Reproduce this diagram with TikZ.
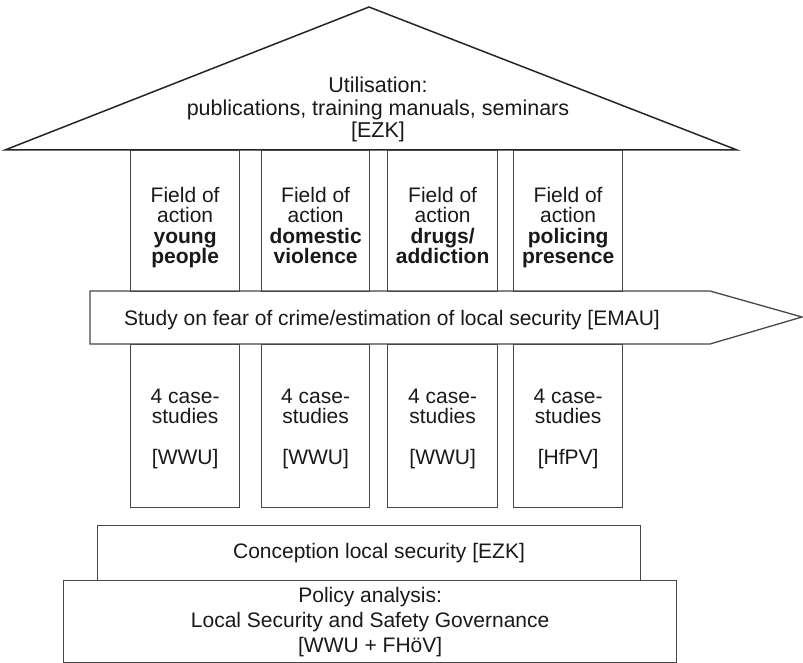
\documentclass[tikz,border=0pt]{standalone}
\usepackage{fontspec}
\setmainfont{Liberation Sans}
\begin{document}
\begin{tikzpicture}[x=1pt,y=-1pt,
  edge/.style={draw=black!72,line width=1.3pt},
  roofline/.style={draw=black!85,line width=1.5pt,line join=miter},
  box/.style={edge,inner sep=0pt,anchor=north west},
  upcol/.style={box,minimum height=141pt},
  lowcol/.style={box,minimum height=163pt},
  txt/.style={align=center,inner sep=0pt,anchor=north,text=black!90},
  coltxt/.style={txt,font=\fontsize{21}{20.5}\selectfont},
  lowtxt/.style={txt,font=\fontsize{21}{19.5}\selectfont},
  roofEtxt/.style={txt,font=\fontsize{21.5}{22.5}\selectfont},
  bigtxt/.style={txt,font=\fontsize{21}{25}\selectfont}]
\useasboundingbox (0,0) rectangle (803,663);
% roof
\draw[roofline] (369,7) -- (737,150) -- (5,150) -- cycle;
\node[roofEtxt] (roof) at (378,77) {Utilisation:\\publications, training manuals, seminars\\{[EZK]}};
% upper columns
\node[upcol,minimum width=109pt] (u1) at (130,150) {};
\node[upcol,minimum width=108pt] (u2) at (261,150) {};
\node[upcol,minimum width=110pt] (u3) at (387,150) {};
\node[upcol,minimum width=109pt] (u4) at (513,150) {};
\node[coltxt] (ut1) at (u1.north |- 0,187) {Field of\\action\\\textbf{young}\\\textbf{people}};
\node[coltxt] (ut2) at (u2.north |- 0,187) {Field of\\action\\\textbf{domestic}\\\textbf{violence}};
\node[coltxt] (ut3) at (u3.north |- 0,187) {Field of\\action\\\textbf{drugs/}\\\textbf{addiction}};
\node[coltxt] (ut4) at (u4.north |- 0,187) {Field of\\action\\\textbf{policing}\\\textbf{presence}};
% arrow
\draw[edge,line join=miter] (90,291) -- (710,291) -- (802,317) -- (710,344) -- (90,344) -- cycle;
\node[inner sep=0pt,anchor=base,text=black!90,font=\fontsize{21}{25}\selectfont] (study) at (392,325) {Study on fear of crime/estimation of local security [EMAU]};
% lower columns
\node[lowcol,minimum width=109pt] (l1) at (130,344) {};
\node[lowcol,minimum width=108pt] (l2) at (261,344) {};
\node[lowcol,minimum width=110pt] (l3) at (387,344) {};
\node[lowcol,minimum width=109pt] (l4) at (513,344) {};
\node[lowtxt] (lt1) at (l1.north |- 0,389) {4 case-\\studies\\[21.5pt]{[WWU]}};
\node[lowtxt] (lt2) at (l2.north |- 0,389) {4 case-\\studies\\[21.5pt]{[WWU]}};
\node[lowtxt] (lt3) at (l3.north |- 0,389) {4 case-\\studies\\[21.5pt]{[WWU]}};
\node[lowtxt] (lt4) at (l4.north |- 0,389) {4 case-\\studies\\[21.5pt]{[HfPV]}};
% base
\node[box,minimum width=543pt,minimum height=55pt] (conc) at (97,525) {};
\node[bigtxt] (conct) at (379,543) {Conception local security [EZK]};
\node[box,minimum width=613pt,minimum height=82pt] (pol) at (63,580) {};
\node[bigtxt] (polt) at (pol.north |- 0,587) {Policy analysis:\\Local Security and Safety Governance\\{[WWU + FHöV]}};
\end{tikzpicture}
\end{document}
